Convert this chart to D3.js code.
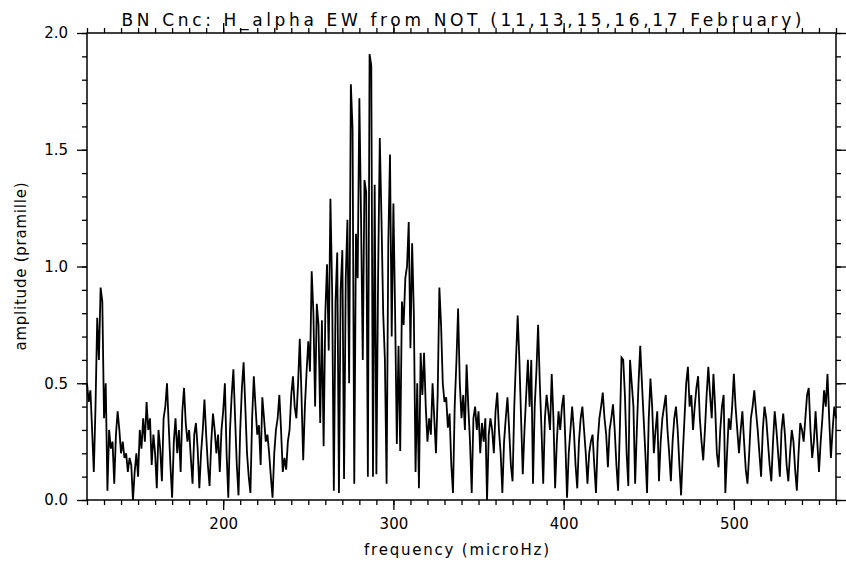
<!DOCTYPE html>
<html>
<head>
<meta charset="utf-8">
<script src="https://cdn.jsdelivr.net/npm/d3@7/dist/d3.min.js"></script>
<style>
  body { margin: 0; background: #fff; }
  svg { display: block; }
  text { font-family: "DejaVu Sans", sans-serif; fill: #000; }
  .axis path { display: none; }
  .axis line { stroke: #000; stroke-width: 1.3; }
  .axis text { font-size: 15px; font-family: "DejaVu Sans", sans-serif; }
</style>
</head>
<body>
<div id="chart"></div>
<script>

// amplitude spectrum, one value per microHz starting at 120 microHz
var freqStart = 120;
var freqStep = 1;
var amplitude = [
  0.50,0.42,0.47,0.30,0.12,0.40,0.78,0.60,0.91,0.85,
  0.35,0.50,0.04,0.30,0.22,0.25,0.07,0.28,0.38,0.30,
  0.20,0.25,0.18,0.20,0.12,0.18,0.15,0.00,0.12,0.20,
  0.10,0.30,0.22,0.35,0.25,0.42,0.30,0.35,0.15,0.28,
  0.20,0.05,0.30,0.22,0.08,0.35,0.40,0.50,0.32,0.15,
  0.01,0.25,0.35,0.20,0.30,0.12,0.38,0.48,0.33,0.25,
  0.30,0.18,0.07,0.28,0.33,0.22,0.05,0.20,0.30,0.43,
  0.28,0.15,0.06,0.25,0.37,0.30,0.20,0.28,0.12,0.30,
  0.38,0.50,0.20,0.01,0.30,0.45,0.56,0.35,0.15,0.02,
  0.30,0.48,0.59,0.40,0.20,0.10,0.03,0.35,0.53,0.40,
  0.28,0.32,0.15,0.44,0.35,0.25,0.28,0.20,0.10,0.01,
  0.20,0.30,0.35,0.45,0.30,0.12,0.18,0.13,0.25,0.30,
  0.45,0.53,0.40,0.35,0.50,0.69,0.45,0.17,0.40,0.55,
  0.68,0.55,0.98,0.80,0.40,0.84,0.75,0.33,0.77,0.23,
  0.80,1.01,0.64,1.29,0.90,0.04,0.85,1.06,0.03,0.90,
  1.07,0.09,0.95,1.20,0.50,1.78,1.59,0.07,1.14,0.95,
  1.72,1.20,0.60,1.37,1.32,0.10,1.91,1.86,0.10,1.35,
  0.11,0.95,1.55,1.20,0.80,0.60,0.07,1.10,1.48,0.70,
  1.27,0.80,0.24,0.66,0.21,0.85,0.75,0.95,1.00,1.19,
  0.65,1.10,0.80,0.12,0.50,0.05,0.63,0.45,0.63,0.40,
  0.25,0.35,0.28,0.50,0.35,0.20,0.45,0.91,0.75,0.50,
  0.42,0.44,0.31,0.37,0.15,0.03,0.40,0.59,0.82,0.50,
  0.35,0.45,0.30,0.58,0.40,0.25,0.03,0.35,0.40,0.30,
  0.38,0.20,0.33,0.25,0.35,0.00,0.28,0.35,0.30,0.20,
  0.38,0.46,0.30,0.20,0.03,0.25,0.35,0.44,0.30,0.15,
  0.08,0.40,0.60,0.79,0.60,0.35,0.11,0.30,0.45,0.60,
  0.40,0.60,0.07,0.40,0.55,0.75,0.50,0.30,0.07,0.35,
  0.45,0.38,0.30,0.54,0.35,0.05,0.25,0.38,0.30,0.40,
  0.45,0.25,0.01,0.20,0.30,0.40,0.30,0.15,0.05,0.25,
  0.35,0.40,0.30,0.20,0.07,0.20,0.25,0.28,0.15,0.03,
  0.25,0.35,0.40,0.46,0.35,0.28,0.14,0.30,0.35,0.41,
  0.30,0.15,0.04,0.30,0.61,0.60,0.45,0.20,0.06,0.60,
  0.50,0.40,0.07,0.30,0.50,0.66,0.50,0.35,0.20,0.03,
  0.35,0.52,0.40,0.20,0.30,0.38,0.08,0.25,0.35,0.40,
  0.45,0.30,0.20,0.08,0.25,0.35,0.40,0.30,0.15,0.02,
  0.20,0.35,0.50,0.57,0.40,0.45,0.30,0.40,0.48,0.53,
  0.35,0.25,0.17,0.30,0.45,0.57,0.45,0.35,0.54,0.40,
  0.20,0.14,0.30,0.40,0.45,0.03,0.20,0.35,0.30,0.40,
  0.54,0.40,0.30,0.20,0.30,0.38,0.25,0.13,0.07,0.20,
  0.35,0.40,0.47,0.38,0.30,0.20,0.10,0.30,0.40,0.35,
  0.25,0.15,0.08,0.25,0.38,0.30,0.20,0.10,0.30,0.37,
  0.28,0.15,0.08,0.20,0.30,0.25,0.13,0.04,0.20,0.33,
  0.30,0.25,0.35,0.45,0.48,0.30,0.18,0.25,0.38,0.25,
  0.12,0.25,0.35,0.47,0.40,0.54,0.35,0.18,0.30,0.40,
  0.35
];

var xDomain = [120, 560];
var yDomain = [0, 2];
var xMajor = [200, 300, 400, 500];
var yMajor = [0, 0.5, 1.0, 1.5, 2.0];
var xMinorStep = 10;
var yMinorStep = 0.1;

var titleText = "BN Cnc: H_alpha EW from NOT (11,13,15,16,17 February)";
var xLabel = "frequency (microHz)";
var yLabel = "amplitude (pramille)";

var margin = { left: 87, right: 10, top: 33, bottom: 62 };
var width = 846 - margin.left - margin.right;
var height = 562 - margin.top - margin.bottom;

var data = amplitude.map(function (a, i) {
    return { f: freqStart + i * freqStep, a: a };
});

var svg = d3.select("#chart")
    .append("svg")
    .attr("width", width + margin.left + margin.right)
    .attr("height", height + margin.top + margin.bottom);

var g = svg.append("g")
    .attr("transform", "translate(" + margin.left + "," + margin.top + ")");

var xScale = d3.scaleLinear().domain(xDomain).range([0, width]);
var yScale = d3.scaleLinear().domain(yDomain).range([height, 0]);

var xMinor = d3.range(xDomain[0], xDomain[1] + 0.001, xMinorStep);
var yMinor = d3.range(yDomain[0], yDomain[1] + 0.001, yMinorStep);

// minor ticks on all four sides
g.append("g").attr("class", "axis").attr("transform", "translate(0," + height + ")")
    .call(d3.axisBottom(xScale).tickValues(xMinor).tickSize(5).tickFormat(""));
g.append("g").attr("class", "axis")
    .call(d3.axisTop(xScale).tickValues(xMinor).tickSize(5).tickFormat(""));
g.append("g").attr("class", "axis")
    .call(d3.axisLeft(yScale).tickValues(yMinor).tickSize(5).tickFormat(""));
g.append("g").attr("class", "axis").attr("transform", "translate(" + width + ",0)")
    .call(d3.axisRight(yScale).tickValues(yMinor).tickSize(5).tickFormat(""));

// major ticks
g.append("g").attr("class", "axis").attr("transform", "translate(0," + height + ")")
    .call(d3.axisBottom(xScale).tickValues(xMajor).tickSize(10).tickPadding(8)
        .tickFormat(d3.format("d")));
g.append("g").attr("class", "axis")
    .call(d3.axisTop(xScale).tickValues(xMajor).tickSize(10).tickFormat(""));
g.append("g").attr("class", "axis")
    .call(d3.axisLeft(yScale).tickValues(yMajor).tickSize(10).tickPadding(9)
        .tickFormat(d3.format(".1f")));
g.append("g").attr("class", "axis").attr("transform", "translate(" + width + ",0)")
    .call(d3.axisRight(yScale).tickValues(yMajor).tickSize(10).tickFormat(""));

var line = d3.line()
    .x(function (d) { return xScale(d.f); })
    .y(function (d) { return yScale(d.a); });

g.append("path")
    .datum(data)
    .attr("d", line)
    .attr("fill", "none")
    .attr("stroke", "#000")
    .attr("stroke-width", 1.8)
    .attr("stroke-linejoin", "miter");

// frame
g.append("rect")
    .attr("width", width)
    .attr("height", height)
    .attr("fill", "none")
    .attr("stroke", "#000")
    .attr("stroke-width", 1.5);

svg.append("text")
    .attr("x", margin.left + width / 2)
    .attr("y", 26)
    .attr("text-anchor", "middle")
    .attr("font-size", 17)
    .attr("textLength", 680)
    .attr("lengthAdjust", "spacing")
    .text(titleText);

svg.append("text")
    .attr("x", margin.left + width / 2 - 5)
    .attr("y", 555)
    .attr("text-anchor", "middle")
    .attr("font-size", 15)
    .attr("textLength", 185)
    .attr("lengthAdjust", "spacing")
    .text(xLabel);

svg.append("text")
    .attr("transform", "translate(26," + (margin.top + height / 2) + ") rotate(-90)")
    .attr("text-anchor", "middle")
    .attr("font-size", 15)
    .attr("textLength", 168)
    .attr("lengthAdjust", "spacing")
    .text(yLabel);

</script>
</body>
</html>
